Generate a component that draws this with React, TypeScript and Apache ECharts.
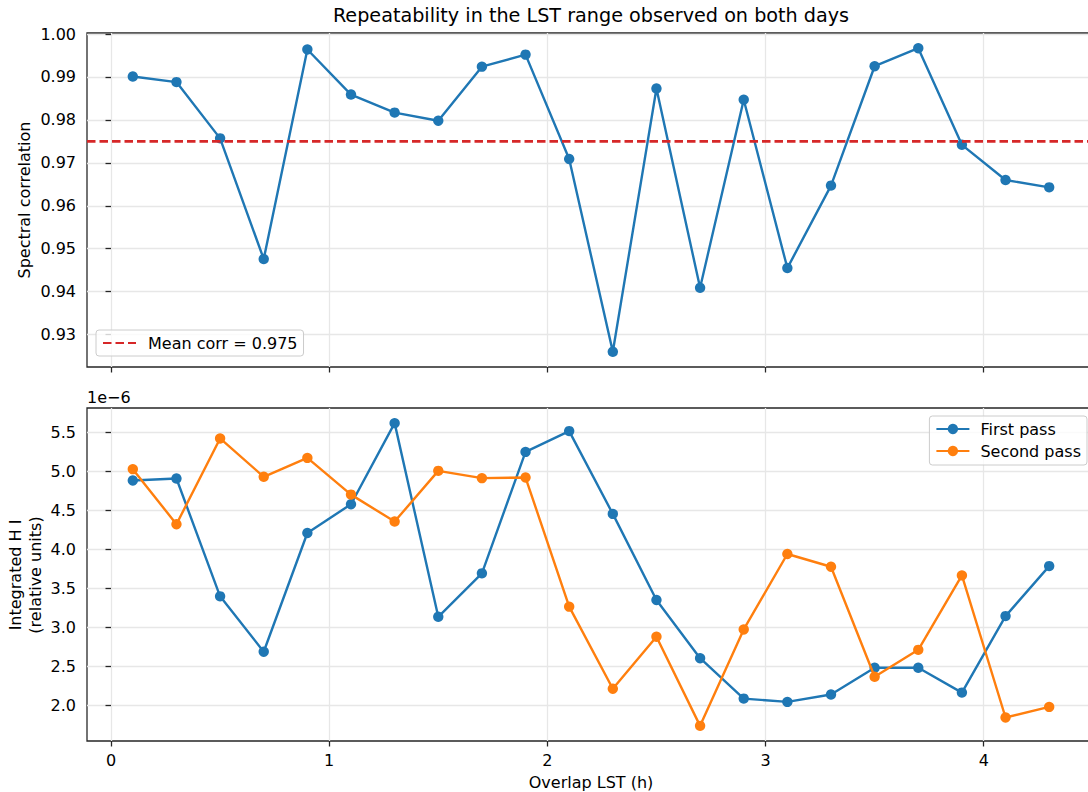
import React, { useEffect, useRef } from "react";
import * as echarts from "echarts";

// Overlap LST (h)
const lst = [0.1, 0.3, 0.5, 0.7, 0.9, 1.1, 1.3, 1.5, 1.7, 1.9, 2.1, 2.3, 2.5, 2.7, 2.9, 3.1, 3.3, 3.5, 3.7, 3.9, 4.1, 4.3];
// Spectral correlation between passes
const correlation = [0.9901, 0.9888, 0.9757, 0.9476, 0.9964, 0.9859, 0.9817, 0.9798, 0.9924, 0.9952, 0.9709, 0.926, 0.9873, 0.9409, 0.9847, 0.9455, 0.9647, 0.9925, 0.9967, 0.9742, 0.966, 0.9643];
const meanCorr = 0.975;
// Integrated H I (relative units), in units of 1e-6
const firstPass = [4.881, 4.906, 3.398, 2.689, 4.209, 4.577, 5.615, 3.136, 3.692, 5.247, 5.513, 4.453, 3.351, 2.606, 2.089, 2.047, 2.141, 2.483, 2.483, 2.166, 3.145, 3.785];
const secondPass = [5.026, 4.321, 5.419, 4.928, 5.17, 4.7, 4.355, 5.004, 4.911, 4.919, 3.266, 2.215, 2.881, 1.74, 2.974, 3.94, 3.777, 2.368, 2.713, 3.666, 1.847, 1.983];

const xTicks = [0, 1, 2, 3, 4];
const corrTicks = [0.93, 0.94, 0.95, 0.96, 0.97, 0.98, 0.99, 1.0];
const hiTicks = [2.0, 2.5, 3.0, 3.5, 4.0, 4.5, 5.0, 5.5];

const TITLE = "Repeatability in the LST range observed on both days";
const MEAN_LABEL = "Mean corr = 0.975";
const FIRST_LABEL = "First pass";
const SECOND_LABEL = "Second pass";

const FONT = "DejaVu Sans";
const BLUE = "#1f77b4";
const ORANGE = "#ff7f0e";
const RED = "#d62728";
const SPINE = "#262626";
const GRID = "#e7e7e7";

function padded(vals: number[]) {
  const lo = Math.min(...vals);
  const hi = Math.max(...vals);
  const p = (hi - lo) * 0.05;
  return [lo - p, hi + p];
}

export default function App() {
  const ref = useRef<HTMLDivElement>(null);
  useEffect(() => {
    if (!ref.current) return;
    const chart = echarts.init(ref.current, undefined, { renderer: "svg" });
    const [xMin, xMax] = padded(lst);
    const [cMin, cMax] = padded(correlation);
    const [hMin, hMax] = padded([...firstPass, ...secondPass]);

    const tickStyle = { show: true, length: 5.5, lineStyle: { color: SPINE, width: 1.28 } };
    const labelStyle = { fontFamily: FONT, fontSize: 16, color: "#000" };
    const splitLine = { show: true, lineStyle: { color: GRID, width: 1.28 } };

    const xAxisBase = (gridIndex: number, showLabel: boolean) => ({
      type: "value",
      gridIndex,
      min: xMin,
      max: xMax,
      minInterval: 1,
      maxInterval: 1,
      axisLine: { show: false },
      axisTick: { ...tickStyle, customValues: xTicks },
      axisLabel: {
        show: showLabel,
        customValues: xTicks,
        margin: 11,
        formatter: (v: number) => String(v),
        ...labelStyle,
      },
      splitLine,
    });

    const lineSeries = (name: string, values: number[], color: string, axis: number, z: number) => ({
      name,
      type: "line",
      xAxisIndex: axis,
      yAxisIndex: axis,
      data: lst.map((x, i) => [x, values[i]]),
      symbol: "circle",
      symbolSize: 10.4,
      showSymbol: true,
      color,
      lineStyle: { color, width: 2.4 },
      itemStyle: { color },
      z,
    });

    const option: any = {
      animation: false,
      backgroundColor: "#fff",
      grid: [
        { left: 87, top: 33, width: 1008, height: 334, show: true, borderColor: SPINE, borderWidth: 1.28, backgroundColor: "transparent", containLabel: false, outerBoundsMode: "none" },
        { left: 87, top: 408, width: 1008, height: 333, show: true, borderColor: SPINE, borderWidth: 1.28, backgroundColor: "transparent", containLabel: false, outerBoundsMode: "none" },
      ],
      xAxis: [xAxisBase(0, false), xAxisBase(1, true)],
      yAxis: [
        {
          type: "value",
          gridIndex: 0,
          min: cMin,
          max: cMax,
          minInterval: 0.01,
          maxInterval: 0.01,
          axisLine: { show: false },
          axisTick: { ...tickStyle, customValues: corrTicks },
          axisLabel: { customValues: corrTicks, margin: 11, formatter: (v: number) => v.toFixed(2), ...labelStyle },
          splitLine,
        },
        {
          type: "value",
          gridIndex: 1,
          min: hMin,
          max: hMax,
          minInterval: 0.5,
          maxInterval: 0.5,
          axisLine: { show: false },
          axisTick: { ...tickStyle, customValues: hiTicks },
          axisLabel: { customValues: hiTicks, margin: 11, formatter: (v: number) => v.toFixed(1), ...labelStyle },
          splitLine,
        },
      ],
      legend: [
        {
          data: [{ name: MEAN_LABEL, itemStyle: { opacity: 0 } }],
          left: 96,
          top: 330,
          orient: "vertical",
          itemWidth: 33,
          itemHeight: 13,
          padding: [5, 6, 5, 6],
          backgroundColor: "rgba(255,255,255,0.8)",
          borderColor: "#cccccc",
          borderWidth: 1,
          borderRadius: 3,
          selectedMode: false,
          textStyle: { fontFamily: FONT, fontSize: 16, color: "#000", padding: [0, 0, 0, 7] },
        },
        {
          data: [FIRST_LABEL, SECOND_LABEL],
          right: 1,
          top: 416,
          orient: "vertical",
          itemWidth: 33,
          itemHeight: 13,
          itemGap: 6,
          padding: [5, 6, 6, 6],
          backgroundColor: "rgba(255,255,255,0.8)",
          borderColor: "#cccccc",
          borderWidth: 1,
          borderRadius: 3,
          selectedMode: false,
          textStyle: { fontFamily: FONT, fontSize: 16, color: "#000", padding: [0, 0, 0, 6] },
        },
      ],
      series: [
        lineSeries("Spectral correlation", correlation, BLUE, 0, 2),
        {
          name: MEAN_LABEL,
          type: "line",
          xAxisIndex: 0,
          yAxisIndex: 0,
          data: [[xMin, meanCorr], [xMax, meanCorr]],
          symbol: "none",
          color: RED,
          lineStyle: { color: RED, width: 2.6, type: [8.5, 4] },
          itemStyle: { color: RED },
          z: 3,
        },
        lineSeries(FIRST_LABEL, firstPass, BLUE, 1, 2),
        lineSeries(SECOND_LABEL, secondPass, ORANGE, 1, 3),
      ],
      graphic: [
        {
          type: "text",
          x: 591,
          y: 15,
          style: { text: TITLE, fontFamily: FONT, fontSize: 19.2, fill: "#000", align: "center", verticalAlign: "middle" },
        },
        {
          type: "text",
          x: 24,
          y: 200,
          rotation: Math.PI / 2,
          style: { text: "Spectral correlation", fontFamily: FONT, fontSize: 16, fill: "#000", align: "center", verticalAlign: "middle" },
        },
        {
          type: "text",
          x: 25,
          y: 575,
          rotation: Math.PI / 2,
          style: { text: "Integrated H I\n(relative units)", fontFamily: FONT, fontSize: 16, lineHeight: 20, fill: "#000", align: "center", verticalAlign: "middle" },
        },
        {
          type: "text",
          x: 87,
          y: 397,
          style: { text: "1e\u22126", fontFamily: FONT, fontSize: 16, fill: "#000", align: "left", verticalAlign: "middle" },
        },
        {
          type: "text",
          x: 591,
          y: 782,
          style: { text: "Overlap LST (h)", fontFamily: FONT, fontSize: 16, fill: "#000", align: "center", verticalAlign: "middle" },
        },
      ],
    };
    chart.setOption(option);
    return () => chart.dispose();
  }, []);
  return <div ref={ref} style={{ position: "fixed", left: 0, top: 0, width: 1088, height: 792 }} />;
}
